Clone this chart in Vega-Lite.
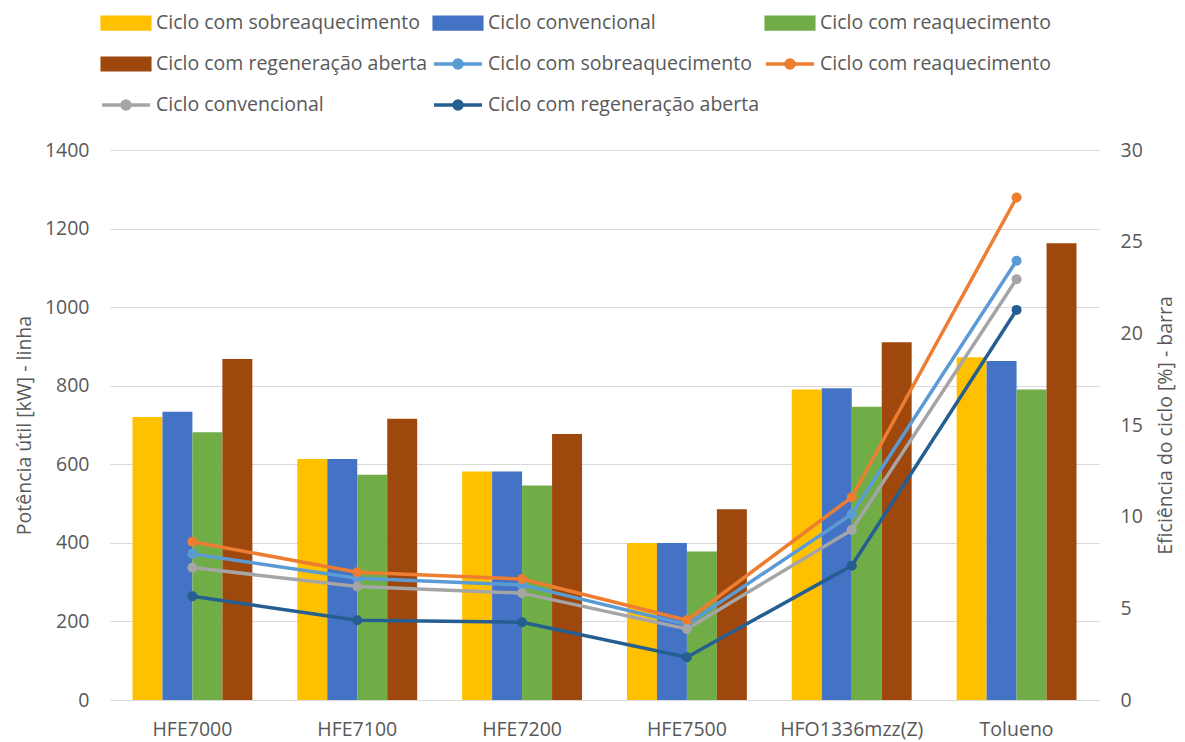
{
  "$schema": "https://vega.github.io/schema/vega-lite/v6.json",
  "width": 989,
  "height": 550,
  "autosize": {"type": "none"},
  "padding": {"left": 110, "top": 150, "right": 86, "bottom": 42},
  "background": "white",
  "config": {
    "view": {"stroke": null},
    "font": "Open Sans",
    "axis": {"labelFont": "Open Sans", "titleFont": "Open Sans", "labelColor": "#595959", "titleColor": "#595959", "labelFontSize": 19.5, "titleFontSize": 19.5, "titleFontWeight": "normal"},
    "legend": {"labelFont": "Open Sans"}
  },
  "datasets": {
    "barras": [
      {"fluido": "HFE7000", "serie": "Ciclo com sobreaquecimento (barra)", "eficiencia": 15.43},
      {"fluido": "HFE7000", "serie": "Ciclo convencional (barra)", "eficiencia": 15.72},
      {"fluido": "HFE7000", "serie": "Ciclo com reaquecimento (barra)", "eficiencia": 14.61},
      {"fluido": "HFE7000", "serie": "Ciclo com regeneração aberta (barra)", "eficiencia": 18.6},
      {"fluido": "HFE7100", "serie": "Ciclo com sobreaquecimento (barra)", "eficiencia": 13.14},
      {"fluido": "HFE7100", "serie": "Ciclo convencional (barra)", "eficiencia": 13.14},
      {"fluido": "HFE7100", "serie": "Ciclo com reaquecimento (barra)", "eficiencia": 12.28},
      {"fluido": "HFE7100", "serie": "Ciclo com regeneração aberta (barra)", "eficiencia": 15.34},
      {"fluido": "HFE7200", "serie": "Ciclo com sobreaquecimento (barra)", "eficiencia": 12.47},
      {"fluido": "HFE7200", "serie": "Ciclo convencional (barra)", "eficiencia": 12.47},
      {"fluido": "HFE7200", "serie": "Ciclo com reaquecimento (barra)", "eficiencia": 11.7},
      {"fluido": "HFE7200", "serie": "Ciclo com regeneração aberta (barra)", "eficiencia": 14.51},
      {"fluido": "HFE7500", "serie": "Ciclo com sobreaquecimento (barra)", "eficiencia": 8.57},
      {"fluido": "HFE7500", "serie": "Ciclo convencional (barra)", "eficiencia": 8.57},
      {"fluido": "HFE7500", "serie": "Ciclo com reaquecimento (barra)", "eficiencia": 8.1},
      {"fluido": "HFE7500", "serie": "Ciclo com regeneração aberta (barra)", "eficiencia": 10.41},
      {"fluido": "HFO1336mzz(Z)", "serie": "Ciclo com sobreaquecimento (barra)", "eficiencia": 16.93},
      {"fluido": "HFO1336mzz(Z)", "serie": "Ciclo convencional (barra)", "eficiencia": 17.01},
      {"fluido": "HFO1336mzz(Z)", "serie": "Ciclo com reaquecimento (barra)", "eficiencia": 15.99},
      {"fluido": "HFO1336mzz(Z)", "serie": "Ciclo com regeneração aberta (barra)", "eficiencia": 19.52},
      {"fluido": "Tolueno", "serie": "Ciclo com sobreaquecimento (barra)", "eficiencia": 18.69},
      {"fluido": "Tolueno", "serie": "Ciclo convencional (barra)", "eficiencia": 18.49},
      {"fluido": "Tolueno", "serie": "Ciclo com reaquecimento (barra)", "eficiencia": 16.93},
      {"fluido": "Tolueno", "serie": "Ciclo com regeneração aberta (barra)", "eficiencia": 24.92}
    ],
    "linhas": [
      {"fluido": "HFE7000", "serie": "Ciclo com sobreaquecimento (linha)", "potencia": 372},
      {"fluido": "HFE7100", "serie": "Ciclo com sobreaquecimento (linha)", "potencia": 310},
      {"fluido": "HFE7200", "serie": "Ciclo com sobreaquecimento (linha)", "potencia": 293},
      {"fluido": "HFE7500", "serie": "Ciclo com sobreaquecimento (linha)", "potencia": 192},
      {"fluido": "HFO1336mzz(Z)", "serie": "Ciclo com sobreaquecimento (linha)", "potencia": 473},
      {"fluido": "Tolueno", "serie": "Ciclo com sobreaquecimento (linha)", "potencia": 1118},
      {"fluido": "HFE7000", "serie": "Ciclo com reaquecimento (linha)", "potencia": 403},
      {"fluido": "HFE7100", "serie": "Ciclo com reaquecimento (linha)", "potencia": 325},
      {"fluido": "HFE7200", "serie": "Ciclo com reaquecimento (linha)", "potencia": 308},
      {"fluido": "HFE7500", "serie": "Ciclo com reaquecimento (linha)", "potencia": 203},
      {"fluido": "HFO1336mzz(Z)", "serie": "Ciclo com reaquecimento (linha)", "potencia": 516},
      {"fluido": "Tolueno", "serie": "Ciclo com reaquecimento (linha)", "potencia": 1279},
      {"fluido": "HFE7000", "serie": "Ciclo convencional (linha)", "potencia": 337},
      {"fluido": "HFE7100", "serie": "Ciclo convencional (linha)", "potencia": 289},
      {"fluido": "HFE7200", "serie": "Ciclo convencional (linha)", "potencia": 272},
      {"fluido": "HFE7500", "serie": "Ciclo convencional (linha)", "potencia": 181},
      {"fluido": "HFO1336mzz(Z)", "serie": "Ciclo convencional (linha)", "potencia": 433},
      {"fluido": "Tolueno", "serie": "Ciclo convencional (linha)", "potencia": 1071},
      {"fluido": "HFE7000", "serie": "Ciclo com regeneração aberta (linha)", "potencia": 264},
      {"fluido": "HFE7100", "serie": "Ciclo com regeneração aberta (linha)", "potencia": 203},
      {"fluido": "HFE7200", "serie": "Ciclo com regeneração aberta (linha)", "potencia": 198},
      {"fluido": "HFE7500", "serie": "Ciclo com regeneração aberta (linha)", "potencia": 109},
      {"fluido": "HFO1336mzz(Z)", "serie": "Ciclo com regeneração aberta (linha)", "potencia": 342},
      {"fluido": "Tolueno", "serie": "Ciclo com regeneração aberta (linha)", "potencia": 993}
    ]
  },
  "layer": [
    {
      "data": {"name": "barras"},
      "mark": {"type": "bar"},
      "encoding": {
        "x": {
          "field": "fluido", "type": "nominal",
          "sort": ["HFE7000", "HFE7100", "HFE7200", "HFE7500", "HFO1336mzz(Z)", "Tolueno"],
          "scale": {"paddingInner": 0.2727, "paddingOuter": 0.1364},
          "axis": {"title": null, "labelAngle": 0, "ticks": false, "domain": true, "domainColor": "#d9d9d9", "domainWidth": 1, "labelPadding": 20, "grid": false}
        },
        "xOffset": {
          "field": "serie", "type": "nominal",
          "scale": {"domain": ["Ciclo com sobreaquecimento (barra)", "Ciclo convencional (barra)", "Ciclo com reaquecimento (barra)", "Ciclo com regeneração aberta (barra)"], "paddingInner": 0, "paddingOuter": 0}
        },
        "y": {
          "field": "eficiencia", "type": "quantitative",
          "scale": {"domain": [0, 30], "nice": false},
          "axis": {"orient": "right", "values": [0, 5, 10, 15, 20, 25, 30], "grid": false, "domain": false, "ticks": false, "labelPadding": 21, "title": "Eficiência do ciclo [%] - barra", "titleAngle": 270, "titleBaseline": "top", "titlePadding": 14}
        },
        "color": {
          "field": "serie", "type": "nominal",
          "scale": {
            "domain": ["Ciclo com sobreaquecimento (barra)", "Ciclo convencional (barra)", "Ciclo com reaquecimento (barra)", "Ciclo com regeneração aberta (barra)", "Ciclo com sobreaquecimento (linha)", "Ciclo com reaquecimento (linha)", "Ciclo convencional (linha)", "Ciclo com regeneração aberta (linha)"],
            "range": ["#FFC000", "#4472C4", "#70AD47", "#9E480E", "#5B9BD5", "#ED7D31", "#A5A5A5", "#255E91"]
          },
          "legend": {
            "title": null,
            "orient": "none",
            "legendX": -8,
            "legendY": -139,
            "direction": "horizontal",
            "columns": 3,
            "gridAlign": "all",
            "columnPadding": -1,
            "rowPadding": 15,
            "padding": 0,
            "symbolSize": 400,
            "symbolOffset": 12,
            "symbolStrokeWidth": 3,
            "labelOffset": 18,
            "labelFontSize": 19.5,
            "labelColor": "#595959",
            "labelLimit": 500,
            "labelExpr": "split(datum.label, ' (')[0]",
            "encode": {
              "symbols": {
                "update": {
                  "shape": {"signal": "indexof(datum.value, '(linha)') >= 0 ? 'M-2.4,0H2.4M-0.4,0A0.4,0.4 0 1,1 0.4,0A0.4,0.4 0 1,1 -0.4,0Z' : 'M-2.38,-0.58H2.38V0.58H-2.38Z'"},
                  "fill": {"signal": "scale('color', datum.value)"},
                  "stroke": {"signal": "indexof(datum.value, '(linha)') >= 0 ? scale('color', datum.value) : 'transparent'"},
                  "strokeWidth": {"value": 3.5},
                  "opacity": {"value": 1},
                  "fillOpacity": {"value": 1},
                  "strokeOpacity": {"value": 1}
                }
              }
            }
          }
        }
      }
    },
    {
      "data": {"name": "linhas"},
      "mark": {"type": "line", "strokeWidth": 3.5, "point": {"filled": true, "size": 100, "opacity": 1}},
      "encoding": {
        "x": {"field": "fluido", "type": "nominal", "sort": ["HFE7000", "HFE7100", "HFE7200", "HFE7500", "HFO1336mzz(Z)", "Tolueno"]},
        "y": {
          "field": "potencia", "type": "quantitative",
          "scale": {"domain": [0, 1400], "nice": false},
          "axis": {"orient": "left", "format": "d", "values": [0, 200, 400, 600, 800, 1000, 1200, 1400], "grid": true, "gridColor": "#d9d9d9", "gridWidth": 1, "domain": false, "ticks": false, "labelPadding": 21, "title": "Potência útil [kW] - linha", "titlePadding": 10}
        },
        "color": {"field": "serie", "type": "nominal"}
      }
    }
  ],
  "resolve": {"scale": {"y": "independent"}}
}
